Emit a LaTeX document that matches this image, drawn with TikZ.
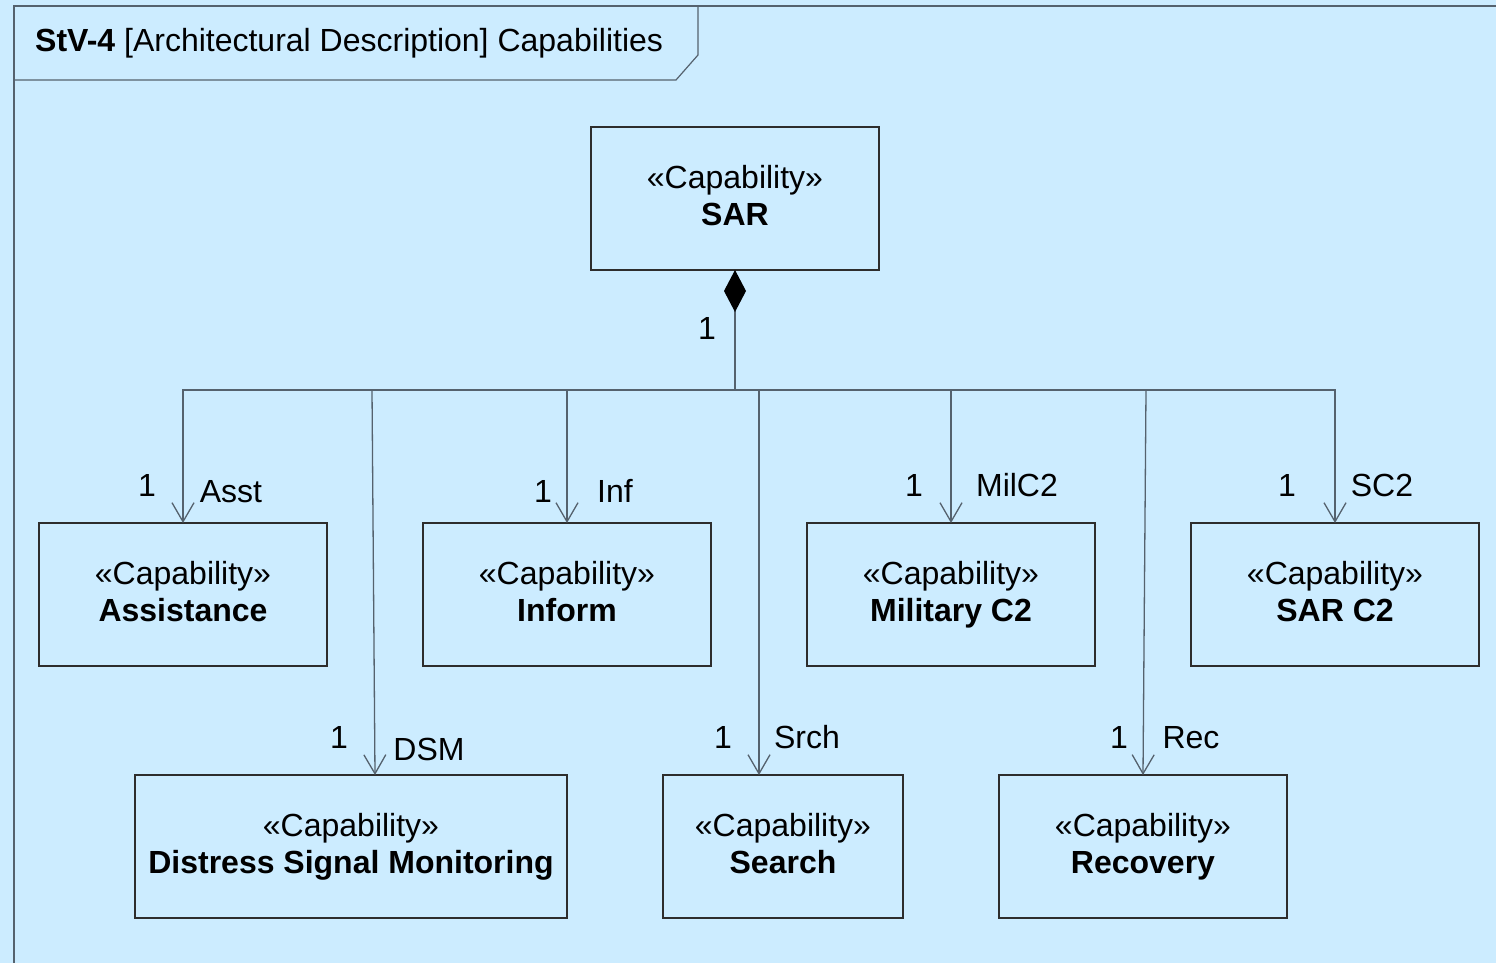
\documentclass[tikz,border=0pt]{standalone}
\usepackage{fontspec}
\setmainfont{Liberation Sans}
\usetikzlibrary{positioning,arrows.meta}
\definecolor{bgblue}{RGB}{204,236,255}
\definecolor{linegray}{RGB}{85,98,110}
\definecolor{boxgray}{RGB}{45,45,45}

\begin{document}
\begin{tikzpicture}[x=1pt, y=-1pt, node distance=96pt,
		capbox/.style = {draw=boxgray, line width=1.2pt, minimum width=288pt, minimum height=143pt, align=center, outer sep=0pt, font=\fontsize{32}{37}\selectfont, execute at end node=\vphantom{g}},
		lbl/.style = {anchor=base, inner sep=0pt, font=\fontsize{32}{37}\selectfont},
		conn/.style = {draw=linegray, line width=1.3pt, -{Straight Barb[length=19pt,width=22pt]}},
		frame/.style = {draw=linegray, line width=1.2pt}]
			\fill[bgblue] (0,0) rectangle (1496,963);
			\useasboundingbox (0,0) rectangle (1496,963);
			% frame and its heading
			\draw[frame] (14,963) -- (14,6) -- (1496,6);
			\draw[frame] (14,80) -- (676,80) -- (698,55) -- (698,6);
			\node[lbl, anchor=base west] (title) at (35,52) {\textbf{StV-4} [Architectural Description] Capabilities};
			% capabilities
			\node[capbox] (sar) at (735,198.5) {«Capability»\\\textbf{SAR}};
			\node[capbox] (asst) at (183,594.5) {«Capability»\\\textbf{Assistance}};
			\node[capbox] (inf) [right=of asst] {«Capability»\\\textbf{Inform}};
			\node[capbox] (mil) [right=of inf] {«Capability»\\\textbf{Military C2}};
			\node[capbox] (sc2) [right=of mil] {«Capability»\\\textbf{SAR C2}};
			\node[capbox, minimum width=432pt] (dsm) at (351,846.5) {«Capability»\\\textbf{Distress Signal Monitoring}};
			\node[capbox, minimum width=240pt] (srch) [right=of dsm] {«Capability»\\\textbf{Search}};
			\node[capbox] (rec) [right=of srch] {«Capability»\\\textbf{Recovery}};
			% composition tree
			\coordinate (hub) at (735,390);
			\coordinate (dsmk) at (372,390);
			\coordinate (dsmin) at (375,775);
			\coordinate (srchk) at (759,390);
			\coordinate (srchin) at (759,775);
			\coordinate (reck) at (1146,390);
			\coordinate (recin) at (1143,775);
			\draw[draw=linegray, line width=1.3pt, {Diamond[length=42pt,width=22pt,color=black]}-] (sar.south) -- (hub);
			\draw[conn] (hub) -| (asst.north);
			\draw[conn] (hub) -- (dsmk) -- (dsmin);
			\draw[conn] (hub) -| (inf.north);
			\draw[conn] (hub) -- (srchk) -- (srchin);
			\draw[conn] (hub) -| (mil.north);
			\draw[conn] (hub) -- (reck) -- (recin);
			\draw[conn] (hub) -| (sc2.north);
			% multiplicities and roles
			\node[lbl] (m0) at (707,339) {1};
			\node[lbl] (m1) at (147,496) {1};
			\node[lbl] (r1) at (231,502) {Asst};
			\node[lbl] (m2) at (543,502) {1};
			\node[lbl] (r2) at (615,502) {Inf};
			\node[lbl] (m3) at (914,496) {1};
			\node[lbl] (r3) at (1017,496) {MilC2};
			\node[lbl] (m4) at (1287,496) {1};
			\node[lbl] (r4) at (1382,496) {SC2};
			\node[lbl] (m5) at (339,748) {1};
			\node[lbl] (r5) at (429,760) {DSM};
			\node[lbl] (m6) at (723,748) {1};
			\node[lbl] (r6) at (807,748) {Srch};
			\node[lbl] (m7) at (1119,748) {1};
			\node[lbl] (r7) at (1191,748) {Rec};
		\end{tikzpicture}
\end{document}
